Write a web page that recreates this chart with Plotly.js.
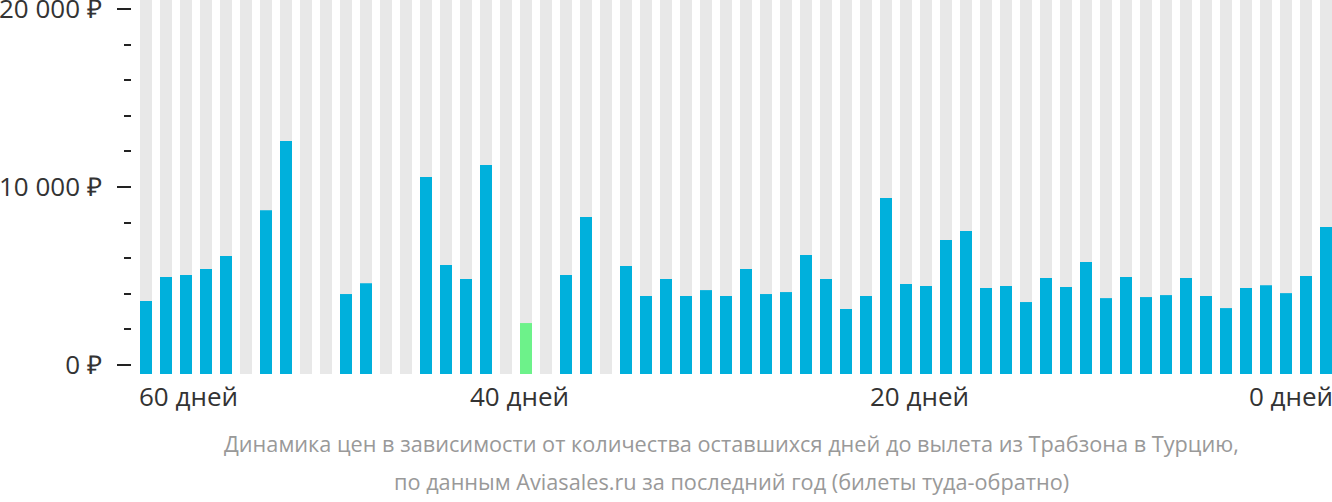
<!DOCTYPE html>
<html>
<head>
<meta charset="utf-8">
<script src="https://cdn.plot.ly/plotly-3.0.1.min.js"></script>
<style>
html,body{margin:0;padding:0;background:#fff;}
#chart{width:1332px;height:502px;}
</style>
</head>
<body>
<div id="chart"></div>
<script>
// Days before departure, one slot per day (60 slots)
const days = [59,58,57,56,55,54,53,52,51,50,49,48,47,46,45,44,43,42,41,40,
              39,38,37,36,35,34,33,32,31,30,29,28,27,26,25,24,23,22,21,20,
              19,18,17,16,15,14,13,12,11,10,9,8,7,6,5,4,3,2,1,0];
// Prices in roubles (null = no data)
const prices = [3600,4940,5060,5390,6120,null,8700,12580,null,null,
                3990,4600,null,null,10560,5620,4830,11240,null,2360,
                null,5060,8310,null,5560,3880,4830,3880,4210,3880,
                5390,3990,4100,6180,4830,3150,3880,9380,4550,4440,
                7020,7530,4330,4440,3540,4890,4380,5790,3760,4940,
                3820,3930,4890,3880,3200,4330,4490,4040,5000,7750];
const cheapestDay = 40;
const yTickVals = [0, 10000, 20000];
const yTickText = ["0 ₽", "10 000 ₽", "20 000 ₽"];
const xLabelDays = [60, 40, 20, 0];
const xLabelText = ["60 дней", "40 дней", "20 дней", "0 дней"];
const captionLines = ["Динамика цен в зависимости от количества оставшихся дней до вылета из Трабзона в Турцию,",
                      "по данным Aviasales.ru за последний год (билеты туда-обратно)"];

const BASE = -500, TOP = 20500;
const idx = days.map((d, i) => i);
const dayToX = d => 59 - d;

const bg = {
  type: 'bar', x: idx, y: idx.map(() => TOP - BASE), base: BASE,
  width: 0.6, marker: {color: '#e8e8e8'}, hoverinfo: 'skip', showlegend: false
};
const barX = [], barY = [], barC = [];
prices.forEach((p, i) => {
  if (p !== null) {
    barX.push(i); barY.push(p - BASE);
    barC.push(days[i] === cheapestDay ? '#6df28a' : '#00b0dc');
  }
});
const bars = {
  type: 'bar', x: barX, y: barY, base: BASE, width: 0.6,
  marker: {color: barC}, showlegend: false,
  customdata: barY.map(v => v + BASE), hovertemplate: '%{customdata} ₽<extra></extra>'
};

const annotations = xLabelDays.map((d, k) => {
  let x = dayToX(d), xa = 'center', xs = 0;
  if (k === 0) { x = -0.3; xa = 'left'; xs = -3; }
  else if (k === xLabelDays.length - 1) { x = 59.3; xa = 'right'; xs = 3; }
  else { x = x - 0.35; }
  return {x: x, y: 0, xref: 'x', yref: 'paper', yanchor: 'middle', xanchor: xa,
          xshift: xs, yshift: -22, text: xLabelText[k], showarrow: false,
          font: {family: 'Open Sans', size: 26, color: '#333'}};
});
captionLines.forEach((line, k) => {
  annotations.push({
    x: 0.5, y: 0, xref: 'paper', yref: 'paper', xanchor: 'center', yanchor: 'middle',
    yshift: -(69 + 38 * k), text: line, showarrow: false,
    font: {family: 'Open Sans', size: 21.7, color: '#999'}
  });
});

const layout = {
  width: 1332, height: 502,
  margin: {l: 131, r: 0, t: 0, b: 128},
  paper_bgcolor: '#fff', plot_bgcolor: '#fff',
  barmode: 'overlay',
  xaxis: {range: [-0.3, 59.3], domain: [9 / 1201, 1], showticklabels: false, ticks: '', showgrid: false,
          zeroline: false, showline: false, fixedrange: true},
  yaxis: {range: [BASE, TOP], anchor: 'free', position: 0,
          tickvals: yTickVals, ticktext: yTickText,
          ticks: 'outside', ticklen: 14, tickwidth: 2, tickcolor: '#222',
          ticklabelstandoff: 10, ticklabeloverflow: 'allow',
          minor: {dtick: 2000, tick0: 0, ticks: 'outside', ticklen: 7, tickwidth: 2, tickcolor: '#222', showgrid: false},
          showgrid: false, zeroline: false, showline: false,
          tickfont: {family: 'Open Sans', size: 26, color: '#333'}, fixedrange: true},
  annotations: annotations,
  font: {family: 'Open Sans'}
};

Plotly.newPlot('chart', [bg, bars], layout, {displayModeBar: false, staticPlot: true});
</script>
</body>
</html>
